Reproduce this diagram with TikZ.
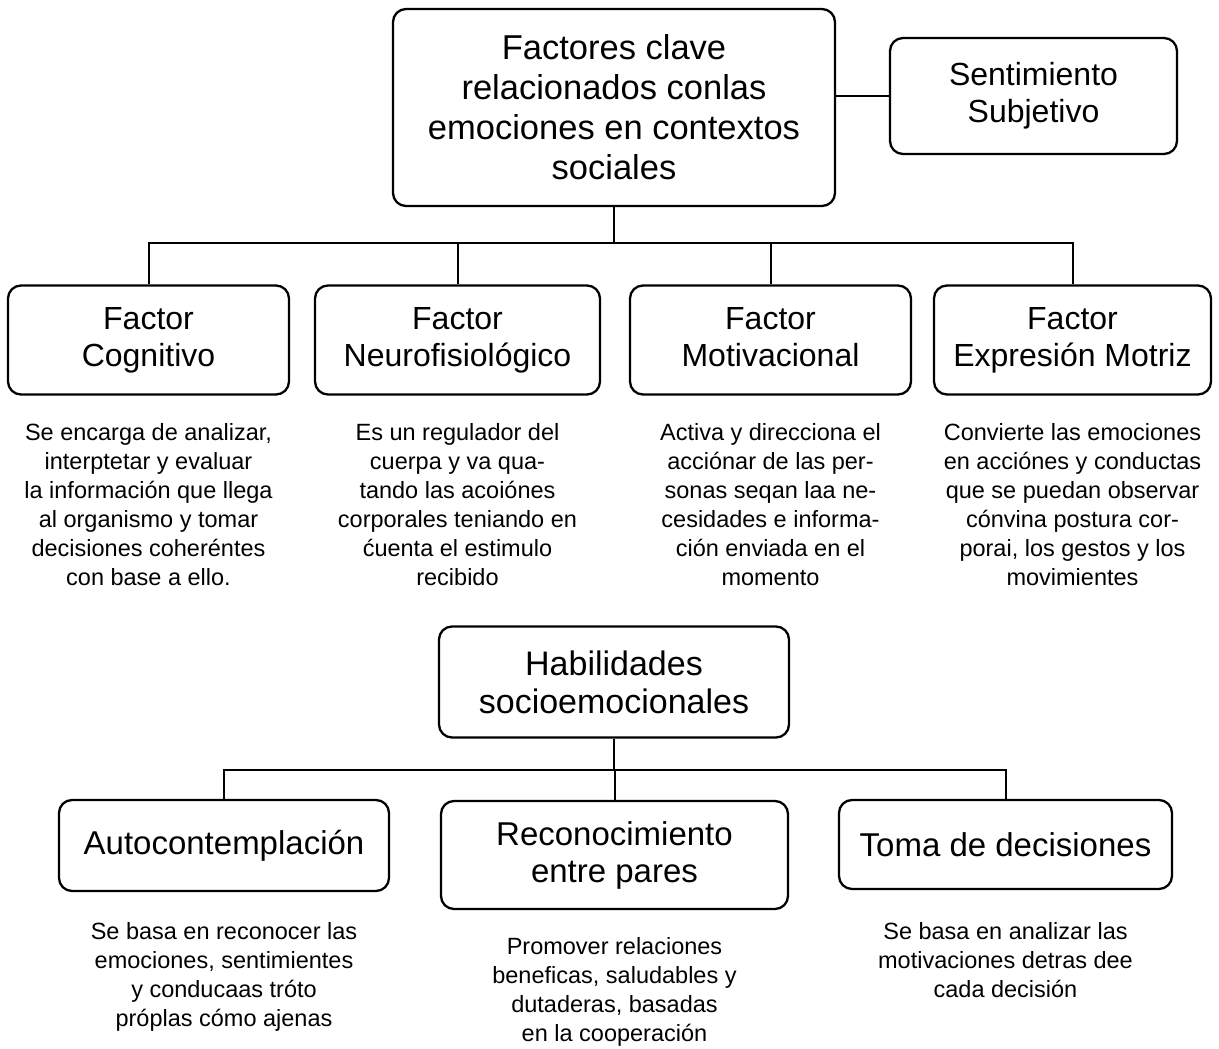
\documentclass[tikz,border=0pt]{standalone}
\usepackage{fontspec}
\setmainfont{Liberation Sans}
\usepackage{tikz}
\usetikzlibrary{positioning}

\begin{document}
\begin{tikzpicture}[x=1pt,y=1pt,node distance=30,
        caja/.style={draw,line width=2.3pt,rounded corners=13pt,align=center,inner sep=0pt,
          font=\fontsize{32}{37}\selectfont},
        texto/.style={align=center,inner sep=0pt,font=\fontsize{23.5}{29}\selectfont},
        linea/.style={line width=2pt}]
      \useasboundingbox (0,0) rectangle (1219,-1049);
      \node[caja,minimum width=442,minimum height=197,font=\fontsize{34.5}{40}\selectfont]
        (titulo) at (614,-107.5) {Factores clave\\relacionados conlas\\emociones en contextos\\sociales};
      \node[caja,minimum width=287,minimum height=116] (senti) at (1033.5,-96) {Sentimiento\\Subjetivo};

      \node[caja,minimum width=281,minimum height=109] (cog)    at (148.5,-340) {Factor\\Cognitivo};
      \node[caja,minimum width=285,minimum height=109] (neuro)  at (457.5,-340) {Factor\\Neurofisiológico};
      \node[caja,minimum width=281,minimum height=109] (motiv)  at (770.5,-340) {Factor\\Motivacional\vphantom{g}};
      \node[caja,minimum width=277,minimum height=109] (expr)   at (1072.5,-340) {Factor\\Expresión Motriz};

      \node[texto] (dcog)   [below=28 of cog]   {Se encarga de analizar,\\interptetar y evaluar\\la información que llega\\al organismo y tomar\\decisiones coheréntes\\con base a ello.};
      \node[texto] (dneuro) [below=28 of neuro] {Es un regulador del\\cuerpa y va qua-\\tando las acoiónes\\corporales teniando en\\ćuenta el estimulo\\recibido};
      \node[texto] (dmotiv) [below=28 of motiv] {Activa y direcciona el\\acciónar de las per-\\sonas seqan laa ne-\\cesidades e informa-\\ción enviada en el\\momento};
      \node[texto] (dexpr)  [below=28 of expr]  {Convierte las emociones\\en acciónes y conductas\\que se puedan observar\\cónvina postura cor-\\porai, los gestos y los\\movimientes};

      \node[caja,minimum width=350,minimum height=111,font=\fontsize{34}{38}\selectfont]
        (habil) at (614,-682) {Habilidades\\socioemocionales};
      \node[caja,minimum width=330,minimum height=91,font=\fontsize{33}{37}\selectfont]
        (auto)  at (224,-845.5)   {Autocontemplación};
      \node[caja,minimum width=347,minimum height=108,font=\fontsize{33}{37}\selectfont]
        (recon) at (614.5,-855)   {Reconocimiento\\entre pares};
      \node[caja,minimum width=333,minimum height=89,font=\fontsize{33}{37}\selectfont]
        (toma)  at (1005.5,-844.5) {Toma de decisiones};

      \node[texto] (dauto)  [below=of auto]  {Se basa en reconocer las\\emociones, sentimientes\\y conducaas tróto\\próplas cómo ajenas};
      \node[texto] (drecon) [below=27 of recon] {Promover relaciones\\beneficas, saludables y\\dutaderas, basadas\\en la cooperación};
      \node[texto] (dtoma)  [below=32 of toma]  {Se basa en analizar las\\motivaciones detras dee\\cada decisión};

      \coordinate (nudo1) at (titulo |- 0,-243);
      \coordinate[below=31 of habil]  (nudo2);

      \draw[linea] (senti.west) -- (senti.west -| titulo.east);
      \draw[linea] (titulo) -- (nudo1);
      \foreach \n in {cog,neuro,motiv,expr}
        \draw[linea] (nudo1) -| (\n);
      \draw[linea] (habil) -- (nudo2);
      \foreach \n in {auto,recon,toma}
        \draw[linea] (nudo2) -| (\n);
\end{tikzpicture}
\end{document}
